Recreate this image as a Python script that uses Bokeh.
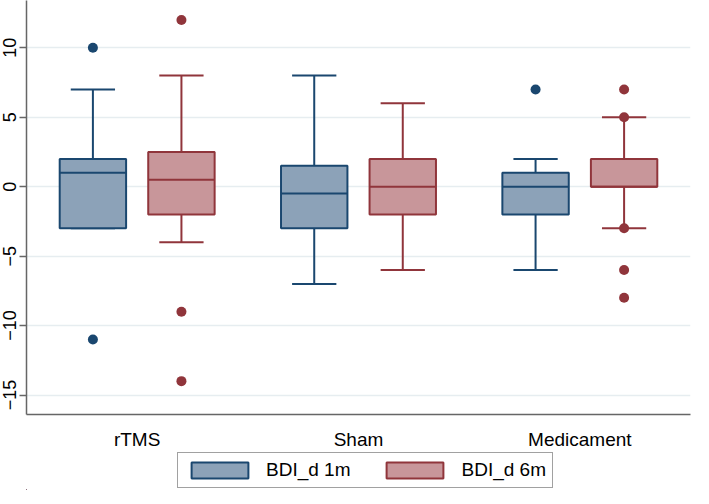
from bokeh.plotting import figure
from bokeh.layouts import column
from bokeh.models import ColumnDataSource, Range1d, FactorRange, FixedTicker, Legend, LegendItem
from bokeh.transform import dodge
from bokeh.embed import file_html
from bokeh.resources import INLINE

# ---- data ----
categories = ["rTMS", "Sham", "Medicament"]
series_labels = ["BDI_d 1m", "BDI_d 6m"]

m1_q1 = [-3, -3, -2]
m1_med = [1, -0.5, 0]
m1_q3 = [2, 1.5, 1]
m1_lo = [-3, -7, -6]
m1_hi = [7, 8, 2]
m1_out_cat = ["rTMS", "rTMS", "Medicament"]
m1_out_val = [10, -11, 7]

m6_q1 = [-2, -2, 0]
m6_med = [0.5, 0, 0]
m6_q3 = [2.5, 2, 2]
m6_lo = [-4, -6, -3]
m6_hi = [8, 6, 5]
m6_out_cat = ["rTMS", "rTMS", "rTMS", "Medicament", "Medicament", "Medicament", "Medicament", "Medicament"]
m6_out_val = [12, -9, -14, 7, 5, -3, -6, -8]

y_ticks = [-15, -10, -5, 0, 5, 10]

# ---- style ----
LINE1, FILL1 = "#1a476f", "#8ca2b8"
LINE6, FILL6 = "#90353b", "#c8969a"
FONT = "Liberation Sans"

p = figure(frame_width=664, frame_height=414, x_range=FactorRange(*categories, range_padding=0),
           y_range=Range1d(-16.4, 13.4), output_backend="svg", toolbar_location=None,
           min_border_left=0, min_border_top=0, min_border_right=2, min_border_bottom=0)
p.outline_line_color = None
p.background_fill_color = "white"
p.border_fill_color = "white"

series = [
    (m1_q1, m1_med, m1_q3, m1_lo, m1_hi, m1_out_cat, m1_out_val, LINE1, FILL1, -0.2),
    (m6_q1, m6_med, m6_q3, m6_lo, m6_hi, m6_out_cat, m6_out_val, LINE6, FILL6, 0.2),
]
for q1, med, q3, lo, hi, ocat, oval, lc, fc, off in series:
    src = ColumnDataSource(dict(cat=categories, q1=q1, med=med, q3=q3, lo=lo, hi=hi))
    # whiskers
    p.segment(x0=dodge("cat", off, range=p.x_range), y0="q3", x1=dodge("cat", off, range=p.x_range), y1="hi",
              source=src, line_color=lc, line_width=2)
    p.segment(x0=dodge("cat", off, range=p.x_range), y0="q1", x1=dodge("cat", off, range=p.x_range), y1="lo",
              source=src, line_color=lc, line_width=2)
    # caps
    p.segment(x0=dodge("cat", off - 0.1, range=p.x_range), y0="hi", x1=dodge("cat", off + 0.1, range=p.x_range), y1="hi",
              source=src, line_color=lc, line_width=2)
    p.segment(x0=dodge("cat", off - 0.1, range=p.x_range), y0="lo", x1=dodge("cat", off + 0.1, range=p.x_range), y1="lo",
              source=src, line_color=lc, line_width=2)
    # box
    p.vbar(x=dodge("cat", off, range=p.x_range), width=0.3, bottom="q1", top="q3", source=src,
           fill_color=fc, line_color=lc, line_width=2)
    # median
    p.segment(x0=dodge("cat", off - 0.15, range=p.x_range), y0="med", x1=dodge("cat", off + 0.15, range=p.x_range), y1="med",
              source=src, line_color=lc, line_width=2)
    # outliers
    osrc = ColumnDataSource(dict(cat=ocat, val=oval))
    p.scatter(x=dodge("cat", off, range=p.x_range), y="val", source=osrc, size=10,
              fill_color=lc, line_color=lc, line_width=0)

# axes
p.xgrid.grid_line_color = None
p.ygrid.grid_line_color = "#e6edf0"
p.ygrid.grid_line_width = 1.5
p.yaxis.ticker = FixedTicker(ticks=y_ticks)
p.yaxis.minor_tick_line_color = None
p.yaxis.major_tick_out = 7
p.yaxis.major_tick_in = 0
p.yaxis.major_tick_line_color = "#666666"
p.yaxis.major_tick_line_width = 1.5
p.yaxis.axis_line_color = "#666666"
p.yaxis.axis_line_width = 1.5
p.yaxis.major_label_orientation = "parallel"
p.yaxis.major_label_standoff = 3
p.yaxis.major_label_text_font = FONT
p.yaxis.major_label_text_font_size = "18px"
p.yaxis.major_label_text_color = "black"

p.xaxis.major_tick_line_color = None
p.xaxis.minor_tick_line_color = None
p.xaxis.major_tick_out = 0
p.xaxis.axis_line_color = "#666666"
p.xaxis.axis_line_width = 1.5
p.xaxis.major_label_standoff = 14
p.xaxis.major_label_text_font = FONT
p.xaxis.major_label_text_font_size = "19px"
p.xaxis.major_label_text_color = "black"

# ---- legend strip (separate small figure below the plot) ----
# its ranges are set far from the data, so the key renderers draw nothing but their legend swatches
lf = figure(width=693, height=38, x_range=Range1d(100, 101), y_range=Range1d(100, 101),
            x_axis_type=None, y_axis_type=None, output_backend="svg", toolbar_location=None,
            min_border=0)
lf.outline_line_color = None
lf.xgrid.grid_line_color = None
lf.ygrid.grid_line_color = None
leg_renderers = []
for q1, q3, lc, fc in [(m1_q1, m1_q3, LINE1, FILL1), (m6_q1, m6_q3, LINE6, FILL6)]:
    ksrc = ColumnDataSource(dict(x=q1, top=q3))
    leg_renderers.append(lf.vbar(x="x", top="top", width=0.1, source=ksrc,
                                 fill_color=fc, line_color=lc, line_width=2))

legend = Legend(items=[LegendItem(label=series_labels[i], renderers=[leg_renderers[i]]) for i in range(2)],
                orientation="horizontal", location=(151, 2))
legend.glyph_width = 71
legend.glyph_height = 20
legend.label_standoff = 11
legend.spacing = 29
legend.padding = 6
legend.margin = 0
legend.border_line_color = "#444444"
legend.border_line_width = 1
legend.background_fill_color = "white"
legend.background_fill_alpha = 1
legend.label_text_font = FONT
legend.label_text_font_size = "19px"
legend.label_text_color = "black"
lf.add_layout(legend)

layout = column(p, lf, spacing=0)
open("out.html", "w").write(file_html(layout, INLINE))
